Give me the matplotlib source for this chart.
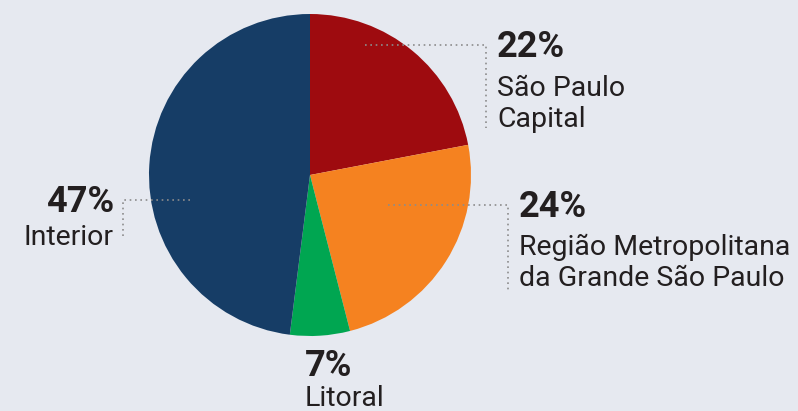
import matplotlib

matplotlib.use("Agg")
import matplotlib.pyplot as plt

# data (slice sizes as drawn in the picture; printed labels as shown)
regions = ["São Paulo\nCapital", "Região Metropolitana\nda Grande São Paulo", "Litoral", "Interior"]
shares = [22, 24, 6, 48]
pct_labels = ["22%", "24%", "7%", "47%"]
colors = ["#9E0B0F", "#F58220", "#00A651", "#163D66"]

BG = "#E6E9F0"
TEXT = "#231F20"
DOT = "#8C8C8C"
H = 411

fig = plt.figure(figsize=(7.98, 4.11), dpi=100, facecolor=BG)
ax = fig.add_axes([0, 0, 1, 1])
ax.set_facecolor(BG)

ax.pie(
    shares,
    colors=colors,
    startangle=90,
    counterclock=False,
    center=(310, H - 175),
    radius=161,
    frame=True,
    wedgeprops={"linewidth": 0},
)
ax.set_xlim(0, 798)
ax.set_ylim(0, H)
ax.set_aspect("equal")
ax.axis("off")


def leader(points):
    xs = [p[0] for p in points]
    ys = [H - p[1] for p in points]
    ax.plot(xs, ys, color=DOT, lw=1.2, linestyle=(0, (1, 2.2)), solid_capstyle="butt")


leader([(365, 45), (486, 45), (486, 128)])
leader([(388, 205), (508, 205), (508, 290)])
leader([(190, 200), (123, 200), (123, 236)])

fonts = ["Roboto", "DejaVu Sans"]


def label(x, y_pct, pct, name, name_gap, ha="left"):
    ax.text(x, H - y_pct, pct, ha=ha, va="baseline", fontsize=26,
            fontweight="bold", color=TEXT, family=fonts)
    for i, line in enumerate(name.split("\n")):
        ax.text(x, H - (y_pct + name_gap + i * 31), line, ha=ha, va="baseline",
                fontsize=20.5, color=TEXT, family=fonts)


label(497, 57, pct_labels[0], regions[0], 39)
label(519, 217, pct_labels[1], regions[1], 38)
label(305, 376, pct_labels[2], regions[2], 30)
label(114, 212, pct_labels[3], regions[3], 33, ha="right")

fig.savefig("out.png", dpi=100, facecolor=BG)
